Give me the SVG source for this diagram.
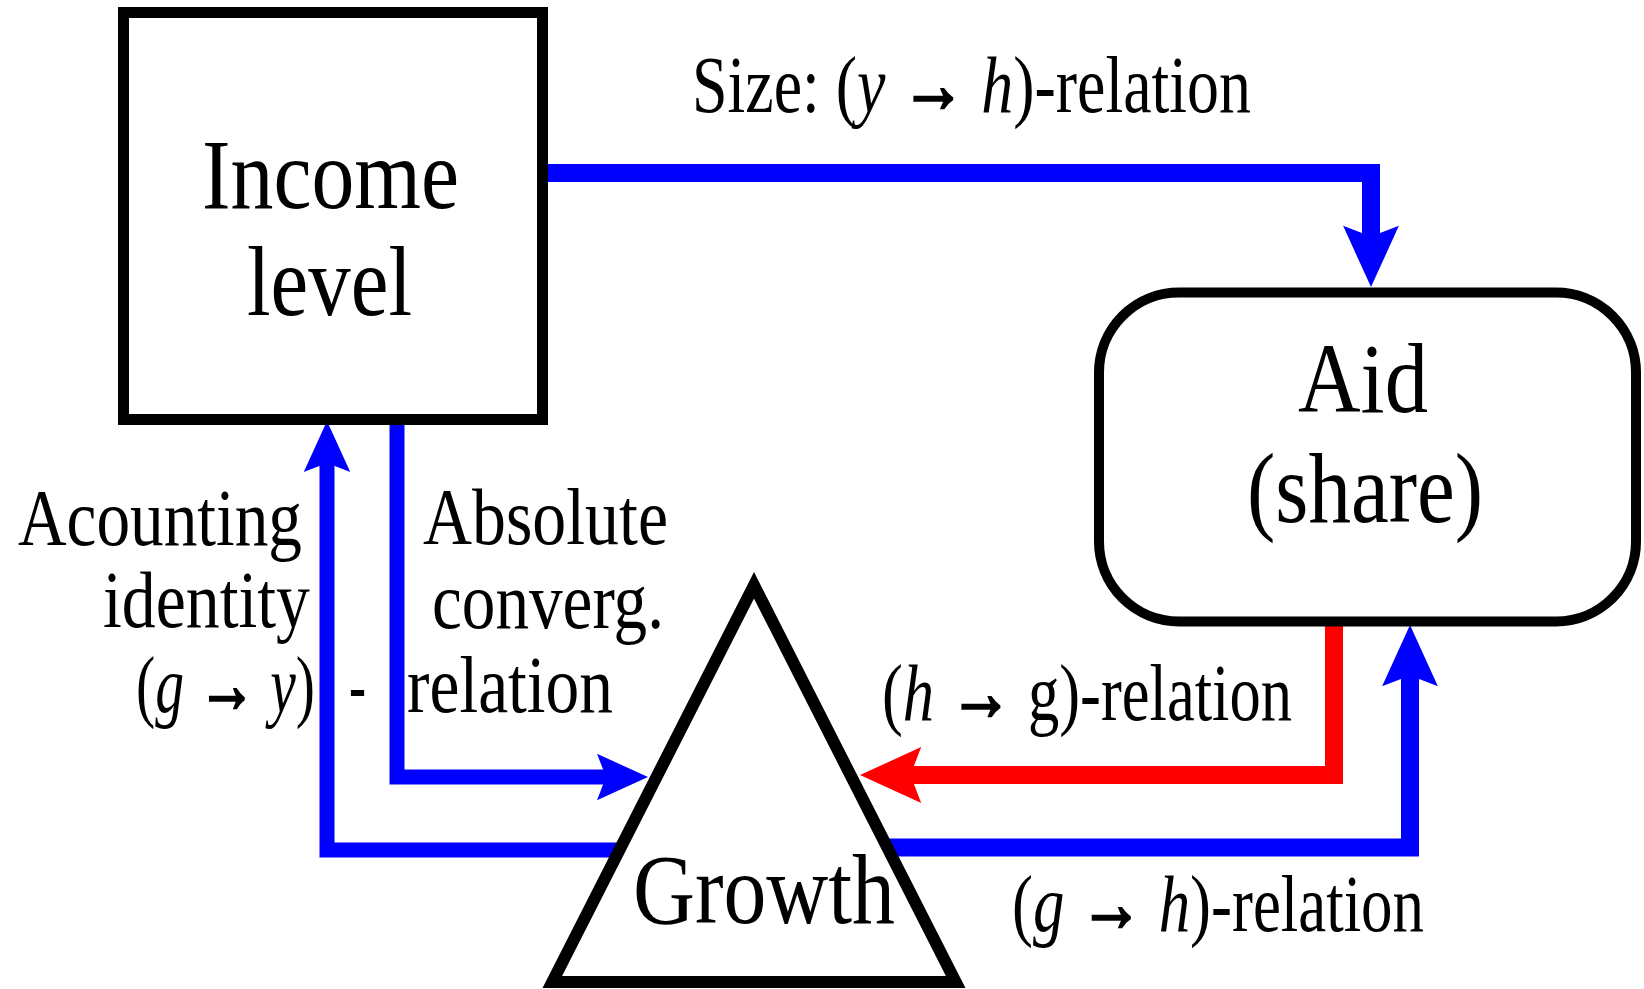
<svg xmlns="http://www.w3.org/2000/svg" width="1644" height="989" viewBox="0 0 1644 989">
  <style>
    .node { fill: #ffffff; stroke: #000000; stroke-width: 11; stroke-linejoin: miter; }
    .conn { fill: none; stroke-linejoin: miter; stroke-linecap: butt; }
    .blue { stroke: #0000ff; }
    .red { stroke: #ff0000; }
    .thin { stroke-width: 15; }
    .thick { stroke-width: 18; }
    .txt { font-family: "Liberation Serif", "Times New Roman", serif; fill: #000000; }
    .big { font-size: 100px; }
    .lbl { font-size: 80px; }
    .it { font-style: italic; }
    .ar { font-weight: bold; stroke: #000000; stroke-width: 2.5; }
  </style>
  <defs>
    <marker id="ahBlue" markerUnits="strokeWidth" markerWidth="4" markerHeight="4" viewBox="0 -2 4 4" refX="0.8" refY="0" orient="auto" overflow="visible">
      <path d="M3.4,0 L0,-1.55 L0.6,0 L0,1.55 Z" fill="#0000ff"/>
    </marker>
    <marker id="ahRed" markerUnits="strokeWidth" markerWidth="4" markerHeight="4" viewBox="0 -2 4 4" refX="0.8" refY="0" orient="auto" overflow="visible">
      <path d="M3.4,0 L0,-1.55 L0.6,0 L0,1.55 Z" fill="#ff0000"/>
    </marker>
  </defs>
  <rect width="1644" height="989" fill="#ffffff"/>

  <g id="connectors">
    <path id="c-size" class="conn blue thick" d="M540,173 H1371 V240.2" marker-end="url(#ahBlue)"/>
    <path id="c-absolute" class="conn blue thin" d="M397,415 V777 H609" marker-end="url(#ahBlue)"/>
    <path id="c-accounting" class="conn blue thin" d="M625,850 H327 V460" marker-end="url(#ahBlue)"/>
    <path id="c-h-g" class="conn red thick" d="M1334,612 V775 H906.8" marker-end="url(#ahRed)"/>
    <path id="c-g-h" class="conn blue thick" d="M880,847.5 H1410 V671.8" marker-end="url(#ahBlue)"/>
  </g>

  <g id="node-income">
    <rect class="node" x="123.5" y="12.5" width="419" height="407"/>
    <text class="txt big" x="202" y="208" textLength="257" lengthAdjust="spacingAndGlyphs">Income</text>
    <text class="txt big" x="247" y="315" textLength="165" lengthAdjust="spacingAndGlyphs">level</text>
  </g>

  <g id="node-aid">
    <rect class="node" x="1099" y="292.5" width="537" height="329" rx="80" ry="80" style="stroke-width:10"/>
    <text class="txt big" x="1298" y="412" textLength="130" lengthAdjust="spacingAndGlyphs">Aid</text>
    <text class="txt big" x="1247" y="522" textLength="236" lengthAdjust="spacingAndGlyphs">(share)</text>
  </g>

  <g id="node-growth">
    <polygon class="node" points="754,585.3 955.7,982 552.3,982" style="stroke-width:12"/>
    <text class="txt big" x="633" y="923" textLength="262" lengthAdjust="spacingAndGlyphs">Growth</text>
  </g>

  <g id="labels">
    <text class="txt lbl" x="692" y="112" textLength="559" lengthAdjust="spacingAndGlyphs">Size: (<tspan class="it">y</tspan> <tspan class="ar">→</tspan> <tspan class="it">h</tspan>)-relation</text>

    <text class="txt lbl" x="18" y="545" textLength="284" lengthAdjust="spacingAndGlyphs">Acounting</text>
    <text class="txt lbl" x="103" y="627" textLength="207" lengthAdjust="spacingAndGlyphs">identity</text>
    <text class="txt lbl" x="136" y="712" textLength="179" lengthAdjust="spacingAndGlyphs">(<tspan class="it">g</tspan> <tspan class="ar">→</tspan> <tspan class="it">y</tspan>)</text>
    <text class="txt lbl" x="349" y="712" textLength="17" lengthAdjust="spacingAndGlyphs">-</text>

    <text class="txt lbl" x="423" y="544" textLength="245" lengthAdjust="spacingAndGlyphs">Absolute</text>
    <text class="txt lbl" x="432" y="628" textLength="232" lengthAdjust="spacingAndGlyphs">converg.</text>
    <text class="txt lbl" x="407" y="712" textLength="206" lengthAdjust="spacingAndGlyphs">relation</text>

    <text class="txt lbl" x="882" y="720" textLength="410" lengthAdjust="spacingAndGlyphs">(<tspan class="it">h</tspan> <tspan class="ar">→</tspan> g)-relation</text>
    <text class="txt lbl" x="1012" y="931" textLength="412" lengthAdjust="spacingAndGlyphs">(<tspan class="it">g</tspan> <tspan class="ar">→</tspan> <tspan class="it">h</tspan>)-relation</text>
  </g>
</svg>
